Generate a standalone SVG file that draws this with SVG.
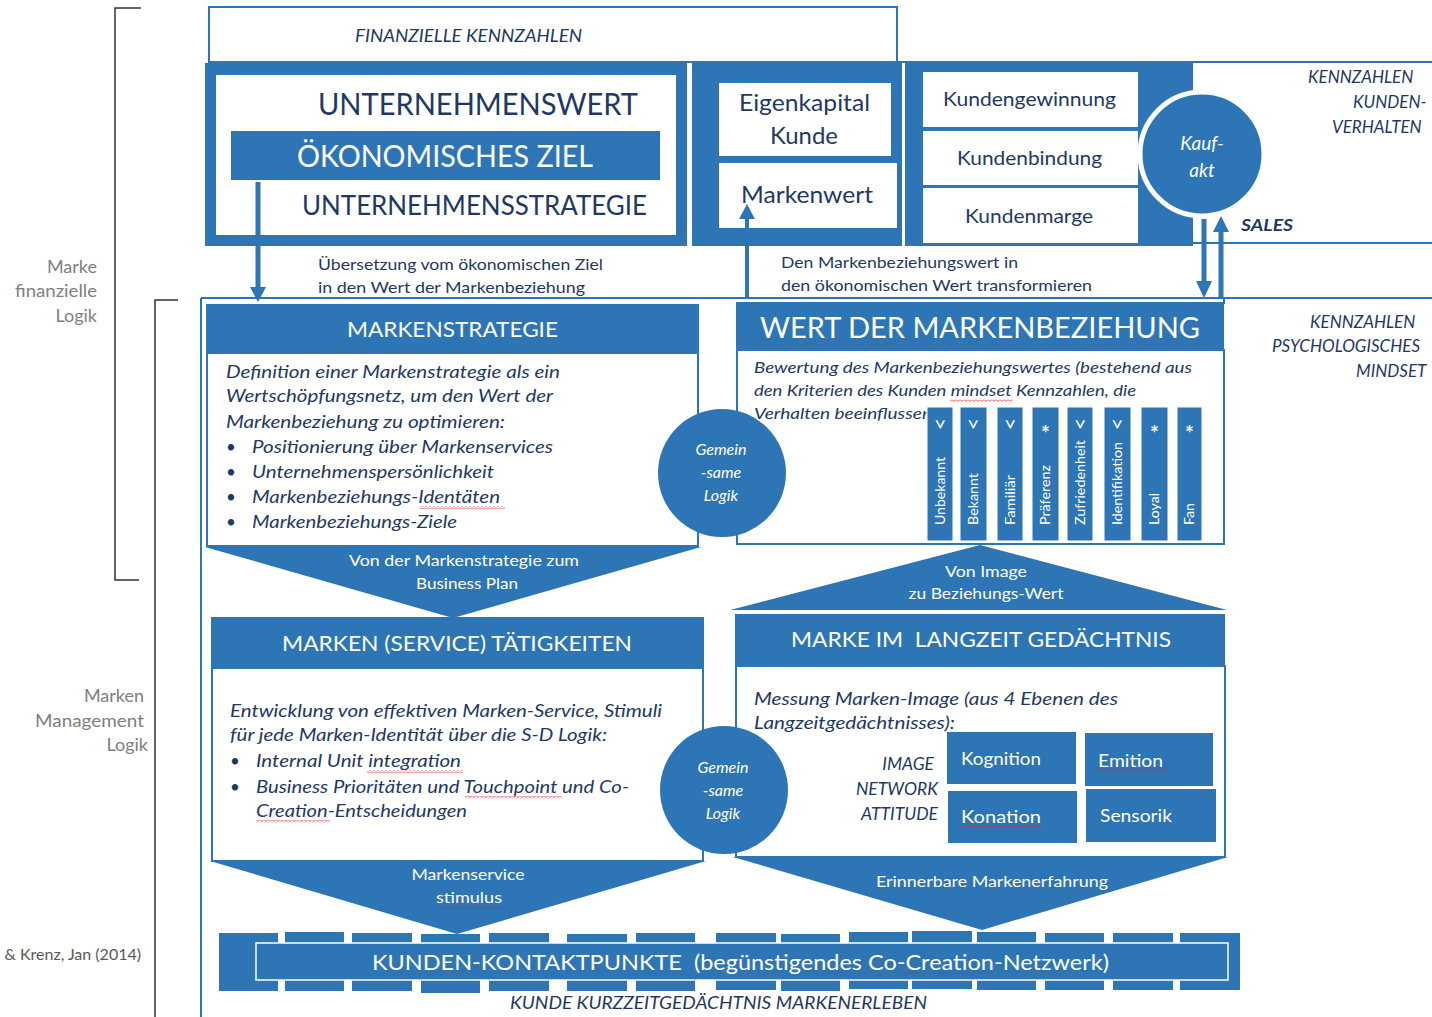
<svg xmlns="http://www.w3.org/2000/svg" width="1432" height="1017" viewBox="0 0 1432 1017">
<defs>
<style>
text{font-family:Lato,"Open Sans","Liberation Sans",sans-serif}
.b{fill:#2E75B6}
.box{fill:#fff;stroke:#2E75B6;stroke-width:2}
.ln{stroke:#2E75B6;stroke-width:2;fill:none}
.br{stroke:#333;stroke-width:1.5;fill:none}
.dk{fill:#1F3864}
.wh{fill:#fff}
.it{font-style:italic}
.gr{fill:#7F7F7F}
.sq{fill:url(#zz)}
.bar{fill:#2E75B6;stroke:#fff;stroke-width:1}
.bl{fill:#fff;font-size:12.5px}
.sym{fill:#fff;font-size:21px}
.ast{fill:#fff;font-size:21px;font-weight:bold}
</style>
<pattern id="zz" width="4" height="3" patternUnits="userSpaceOnUse"><path d="M0,0.5 L2,2.5 L4,0.5" stroke="#E02020" stroke-width="0.8" fill="none"/></pattern>
</defs>
<rect width="1432" height="1017" fill="#fff"/>

<g id="side-labels">
<path class="br" d="M141,8 H115 V580 H139"/>
<path class="br" d="M178,300 H155 V1017"/>
<g class="gr" font-size="18" text-anchor="end">
<text x="97" y="273">Marke</text>
<text x="97" y="297" textLength="82" lengthAdjust="spacingAndGlyphs">finanzielle</text>
<text x="97" y="322">Logik</text>
<text x="144" y="702">Marken</text>
<text x="144" y="727" textLength="109" lengthAdjust="spacingAndGlyphs">Management</text>
<text x="148" y="751">Logik</text>
</g>
<text x="141" y="960" text-anchor="end" font-size="16" fill="#595959">&amp; Krenz, Jan (2014)</text>
</g>

<g id="frame">
<line class="ln" x1="897" y1="62" x2="1432" y2="62"/>
<line class="ln" x1="1193" y1="243" x2="1432" y2="243"/>
<line class="ln" x1="201" y1="298" x2="1432" y2="298"/>
<line class="ln" x1="201" y1="298" x2="201" y2="1017"/>
<line class="ln" x1="1224" y1="298" x2="1224" y2="304"/>
</g>

<g id="finanzielle-kennzahlen">
<rect x="209" y="7" width="688" height="55" class="box"/>
<text x="355" y="42" class="dk it" font-size="17" textLength="227" lengthAdjust="spacingAndGlyphs">FINANZIELLE KENNZAHLEN</text>
</g>

<g id="unternehmenswert">
<rect x="205" y="63" width="482" height="183" class="b"/>
<rect x="216" y="75" width="460" height="160" fill="#fff"/>
<rect x="231" y="131" width="429" height="49" class="b"/>
<text x="318" y="115" class="dk" font-size="30" textLength="320" lengthAdjust="spacingAndGlyphs">UNTERNEHMENSWERT</text>
<text x="297" y="167" class="wh" font-size="30" textLength="296" lengthAdjust="spacingAndGlyphs">ÖKONOMISCHES ZIEL</text>
<text x="302" y="215" class="dk" font-size="27" textLength="345" lengthAdjust="spacingAndGlyphs">UNTERNEHMENSSTRATEGIE</text>
</g>

<g id="eigenkapital-markenwert">
<rect x="692" y="63" width="210" height="183" class="b"/>
<rect x="719" y="83" width="172" height="73" fill="#fff"/>
<rect x="719" y="163" width="178" height="65" fill="#fff"/>
<text x="739" y="111" class="dk" font-size="24" textLength="131" lengthAdjust="spacingAndGlyphs">Eigenkapital</text>
<text x="770" y="144" class="dk" font-size="24" textLength="68" lengthAdjust="spacingAndGlyphs">Kunde</text>
<text x="741" y="203" class="dk" font-size="24" textLength="132" lengthAdjust="spacingAndGlyphs">Markenwert</text>
</g>

<g id="kunden-kennzahlen">
<rect x="905" y="63" width="288" height="183" class="b"/>
<rect x="923" y="72" width="215" height="55" fill="#fff"/>
<rect x="923" y="131" width="215" height="54" fill="#fff"/>
<rect x="923" y="188" width="215" height="55" fill="#fff"/>
<text x="943" y="106" class="dk" font-size="19" textLength="173" lengthAdjust="spacingAndGlyphs">Kundengewinnung</text>
<text x="957" y="165" class="dk" font-size="19" textLength="145" lengthAdjust="spacingAndGlyphs">Kundenbindung</text>
<text x="965" y="223" class="dk" font-size="19" textLength="128" lengthAdjust="spacingAndGlyphs">Kundenmarge</text>
</g>

<g id="kaufakt">
<circle cx="1202" cy="154" r="62" class="b" stroke="#fff" stroke-width="5"/>
<text x="1202" y="150" text-anchor="middle" class="wh it" font-size="19">Kauf-</text>
<text x="1202" y="177" text-anchor="middle" class="wh it" font-size="19">akt</text>
<text x="1241" y="231" class="dk it" font-size="17" font-weight="bold" textLength="52" lengthAdjust="spacingAndGlyphs">SALES</text>
</g>

<g id="kennzahlen-labels" class="dk it" font-size="17">
<text x="1308" y="83">KENNZAHLEN</text>
<text x="1353" y="108">KUNDEN-</text>
<text x="1332" y="133">VERHALTEN</text>
<text x="1310" y="328">KENNZAHLEN</text>
<text x="1272" y="352">PSYCHOLOGISCHES</text>
<text x="1356" y="377">MINDSET</text>
</g>

<g id="transition-labels" class="dk" font-size="16">
<text x="318" y="270" textLength="285" lengthAdjust="spacingAndGlyphs">Übersetzung vom ökonomischen Ziel</text>
<text x="318" y="293" textLength="267" lengthAdjust="spacingAndGlyphs">in den Wert der Markenbeziehung</text>
<text x="781" y="268" textLength="237" lengthAdjust="spacingAndGlyphs">Den Markenbeziehungswert in</text>
<text x="781" y="291" textLength="311" lengthAdjust="spacingAndGlyphs">den ökonomischen Wert transformieren</text>
</g>

<g id="markenstrategie">
<rect x="206" y="304" width="493" height="49" class="b"/>
<rect x="207" y="353" width="491" height="193" class="box"/>
<text x="347" y="337" class="wh" font-size="22" textLength="211" lengthAdjust="spacingAndGlyphs">MARKENSTRATEGIE</text>
<g class="dk it" font-size="17">
<text x="226" y="378" textLength="334" lengthAdjust="spacingAndGlyphs">Definition einer Markenstrategie als ein</text>
<text x="226" y="402" textLength="327" lengthAdjust="spacingAndGlyphs">Wertschöpfungsnetz, um den Wert der</text>
<text x="226" y="428" textLength="279" lengthAdjust="spacingAndGlyphs">Markenbeziehung zu optimieren:</text>
<text x="252" y="453" textLength="301" lengthAdjust="spacingAndGlyphs">Positionierung über Markenservices</text>
<text x="252" y="478" textLength="242" lengthAdjust="spacingAndGlyphs">Unternehmenspersönlichkeit</text>
<text x="252" y="503" textLength="248" lengthAdjust="spacingAndGlyphs">Markenbeziehungs-Identäten</text>
<text x="252" y="528" textLength="205" lengthAdjust="spacingAndGlyphs">Markenbeziehungs-Ziele</text>
</g>
<g class="dk" font-size="17">
<text x="226" y="453">•</text><text x="226" y="478">•</text><text x="226" y="503">•</text><text x="226" y="528">•</text>
</g>
<rect class="sq" x="419" y="506" width="86" height="3"/>
<polygon points="205,547 701,547 453,618" class="b"/>
<text x="464" y="566" text-anchor="middle" class="wh" font-size="15" textLength="230" lengthAdjust="spacingAndGlyphs">Von der Markenstrategie zum</text>
<text x="467" y="589" text-anchor="middle" class="wh" font-size="15" textLength="102" lengthAdjust="spacingAndGlyphs">Business Plan</text>
</g>

<g id="wert-der-markenbeziehung">
<rect x="736" y="302" width="488" height="48" class="b"/>
<rect x="737" y="350" width="487" height="194" class="box"/>
<text x="760" y="338" class="wh" font-size="28" textLength="440" lengthAdjust="spacingAndGlyphs">WERT DER MARKENBEZIEHUNG</text>
<g class="dk it" font-size="15.5">
<text x="754" y="373" textLength="438" lengthAdjust="spacingAndGlyphs">Bewertung des Markenbeziehungswertes (bestehend aus</text>
<text x="754" y="396" textLength="382" lengthAdjust="spacingAndGlyphs">den Kriterien des Kunden mindset Kennzahlen, die</text>
<text x="754" y="419" textLength="178" lengthAdjust="spacingAndGlyphs">Verhalten beeinflussen</text>
</g>
<rect class="sq" x="950" y="399" width="63" height="3"/>
<g id="mindset-bars">
<rect class="bar" x="927" y="407" width="26" height="134"/>
<rect class="bar" x="960" y="407" width="27" height="134"/>
<rect class="bar" x="997" y="407" width="26" height="134"/>
<rect class="bar" x="1032" y="407" width="27" height="134"/>
<rect class="bar" x="1067" y="407" width="26" height="134"/>
<rect class="bar" x="1104" y="407" width="27" height="134"/>
<rect class="bar" x="1141" y="407" width="27" height="134"/>
<rect class="bar" x="1177" y="407" width="25" height="134"/>
<text class="bl" transform="translate(944.5,525) rotate(-90)" textLength="68" lengthAdjust="spacingAndGlyphs">Unbekannt</text>
<text class="bl" transform="translate(978,525) rotate(-90)" textLength="52" lengthAdjust="spacingAndGlyphs">Bekannt</text>
<text class="bl" transform="translate(1014.5,525) rotate(-90)" textLength="50" lengthAdjust="spacingAndGlyphs">Familiär</text>
<text class="bl" transform="translate(1050,525) rotate(-90)" textLength="60" lengthAdjust="spacingAndGlyphs">Präferenz</text>
<text class="bl" transform="translate(1084.5,525) rotate(-90)" textLength="85" lengthAdjust="spacingAndGlyphs">Zufriedenheit</text>
<text class="bl" transform="translate(1122,525) rotate(-90)" textLength="83" lengthAdjust="spacingAndGlyphs">Identifikation</text>
<text class="bl" transform="translate(1159,525) rotate(-90)" textLength="32" lengthAdjust="spacingAndGlyphs">Loyal</text>
<text class="bl" transform="translate(1194,525) rotate(-90)" textLength="22" lengthAdjust="spacingAndGlyphs">Fan</text>
<text class="sym" transform="translate(932.5,418) rotate(90)">&gt;</text>
<text class="sym" transform="translate(966,418) rotate(90)">&gt;</text>
<text class="sym" transform="translate(1002.5,418) rotate(90)">&gt;</text>
<text class="sym" transform="translate(1072.5,418) rotate(90)">&gt;</text>
<text class="sym" transform="translate(1110,418) rotate(90)">&gt;</text>
<text class="ast" x="1045.5" y="441" text-anchor="middle">*</text>
<text class="ast" x="1154.5" y="441" text-anchor="middle">*</text>
<text class="ast" x="1189.5" y="441" text-anchor="middle">*</text>
</g>
<polygon points="730,610 1227,610 980,545" class="b"/>
<text x="986" y="577" text-anchor="middle" class="wh" font-size="15" textLength="82" lengthAdjust="spacingAndGlyphs">Von Image</text>
<text x="986" y="599" text-anchor="middle" class="wh" font-size="15" textLength="155" lengthAdjust="spacingAndGlyphs">zu Beziehungs-Wert</text>
</g>

<g id="gemeinsame-logik-1">
<circle cx="722" cy="473" r="64" class="b"/>
<text x="721" y="455" text-anchor="middle" class="wh it" font-size="16">Gemein</text>
<text x="721" y="478" text-anchor="middle" class="wh it" font-size="16">-same</text>
<text x="721" y="501" text-anchor="middle" class="wh it" font-size="16">Logik</text>
</g>

<g id="marken-service-taetigkeiten">
<rect x="211" y="617" width="493" height="51" class="b"/>
<rect x="212" y="668" width="491" height="193" class="box"/>
<text x="282" y="651" class="wh" font-size="22" textLength="350" lengthAdjust="spacingAndGlyphs">MARKEN (SERVICE) TÄTIGKEITEN</text>
<g class="dk it" font-size="17.5">
<text x="230" y="717" textLength="432" lengthAdjust="spacingAndGlyphs">Entwicklung von effektiven Marken-Service, Stimuli</text>
<text x="230" y="741" textLength="377" lengthAdjust="spacingAndGlyphs">für jede Marken-Identität über die S-D Logik:</text>
<text x="256" y="767" textLength="205" lengthAdjust="spacingAndGlyphs">Internal Unit integration</text>
<text x="256" y="793" textLength="373" lengthAdjust="spacingAndGlyphs">Business Prioritäten und Touchpoint und Co-</text>
<text x="256" y="817" textLength="211" lengthAdjust="spacingAndGlyphs">Creation-Entscheidungen</text>
</g>
<g class="dk" font-size="17"><text x="230" y="767">•</text><text x="230" y="793">•</text></g>
<rect class="sq" x="367" y="770" width="96" height="3"/>
<rect class="sq" x="465" y="796" width="97" height="3"/>
<rect class="sq" x="256" y="820" width="74" height="3"/>
<polygon points="210,861 706,861 457,934" class="b"/>
<text x="468" y="880" text-anchor="middle" class="wh" font-size="15" textLength="113" lengthAdjust="spacingAndGlyphs">Markenservice</text>
<text x="469" y="903" text-anchor="middle" class="wh" font-size="15" textLength="66" lengthAdjust="spacingAndGlyphs">stimulus</text>
<rect class="sq" x="436" y="905" width="68" height="3"/>
</g>

<g id="marke-im-langzeit-gedaechtnis">
<rect x="735" y="614" width="490" height="52" class="b"/>
<rect x="736" y="666" width="489" height="191" class="box"/>
<text x="791" y="647" class="wh" font-size="22" textLength="380" lengthAdjust="spacingAndGlyphs" xml:space="preserve">MARKE IM  LANGZEIT GEDÄCHTNIS</text>
<g class="dk it" font-size="17.5">
<text x="754" y="705" textLength="364" lengthAdjust="spacingAndGlyphs">Messung Marken-Image (aus 4 Ebenen des</text>
<text x="754" y="729" textLength="201" lengthAdjust="spacingAndGlyphs">Langzeitgedächtnisses):</text>
</g>
<g class="dk it" font-size="17.5" text-anchor="end">
<text x="934" y="770">IMAGE</text>
<text x="938" y="795">NETWORK</text>
<text x="938" y="820">ATTITUDE</text>
</g>
<rect x="947" y="732" width="129" height="52" class="b"/>
<rect x="1085" y="733" width="128" height="53" class="b"/>
<rect x="948" y="791" width="129" height="52" class="b"/>
<rect x="1086" y="789" width="130" height="53" class="b"/>
<g class="wh" font-size="18">
<text x="961" y="765" textLength="80" lengthAdjust="spacingAndGlyphs">Kognition</text>
<text x="1098" y="767" textLength="65" lengthAdjust="spacingAndGlyphs">Emition</text>
<text x="961" y="823" textLength="80" lengthAdjust="spacingAndGlyphs">Konation</text>
<text x="1100" y="822" textLength="72" lengthAdjust="spacingAndGlyphs">Sensorik</text>
</g>
<rect class="sq" x="1098" y="768" width="69" height="3"/>
<rect class="sq" x="961" y="825" width="81" height="3"/>
<polygon points="733,857 1228,857 982,930" class="b"/>
<text x="992" y="887" text-anchor="middle" class="wh" font-size="15" textLength="232" lengthAdjust="spacingAndGlyphs">Erinnerbare Markenerfahrung</text>
</g>

<g id="gemeinsame-logik-2">
<circle cx="724" cy="790" r="64" class="b"/>
<text x="723" y="773" text-anchor="middle" class="wh it" font-size="16">Gemein</text>
<text x="723" y="796" text-anchor="middle" class="wh it" font-size="16">-same</text>
<text x="723" y="819" text-anchor="middle" class="wh it" font-size="16">Logik</text>
</g>

<g id="kunden-kontaktpunkte">
<g class="b">
<rect x="219" y="933" width="59" height="58"/>
<rect x="285" y="932" width="59" height="59"/>
<rect x="352" y="933" width="60" height="58"/>
<rect x="421" y="934" width="59" height="59"/>
<rect x="489" y="933" width="60" height="58"/>
<rect x="567" y="934" width="60" height="57"/>
<rect x="636" y="933" width="59" height="58"/>
<rect x="716" y="933" width="60" height="57"/>
<rect x="781" y="934" width="59" height="57"/>
<rect x="849" y="932" width="59" height="57"/>
<rect x="912" y="931" width="60" height="58"/>
<rect x="977" y="932" width="59" height="58"/>
<rect x="1045" y="933" width="59" height="57"/>
<rect x="1113" y="933" width="60" height="57"/>
<rect x="1180" y="933" width="60" height="57"/>
</g>
<rect x="256" y="943" width="972" height="37" class="b" stroke="#fff" stroke-width="1.5"/>
<text x="372" y="970" class="wh" font-size="22" textLength="737" lengthAdjust="spacingAndGlyphs" xml:space="preserve">KUNDEN-KONTAKTPUNKTE  (begünstigendes Co-Creation-Netzwerk)</text>
<rect class="sq" x="897" y="971" width="96" height="3"/>
<text x="510" y="1009" class="dk it" font-size="17" textLength="417" lengthAdjust="spacingAndGlyphs">KUNDE KURZZEITGEDÄCHTNIS MARKENERLEBEN</text>
</g>

<g id="connectors" class="b">
<path d="M255.5,182 H260.5 V287 H266 L258,302 L250,287 H255.5 Z"/>
<path d="M745,298 V219 H739 L747,204 L755,219 H749 V298 Z"/>
<path d="M1201.5,219 H1206.5 V281 H1212 L1204,298 L1196,281 H1201.5 Z"/>
<path d="M1218.5,298 V232 H1213 L1221,216 L1229,232 H1223.5 V298 Z"/>
</g>
</svg>
